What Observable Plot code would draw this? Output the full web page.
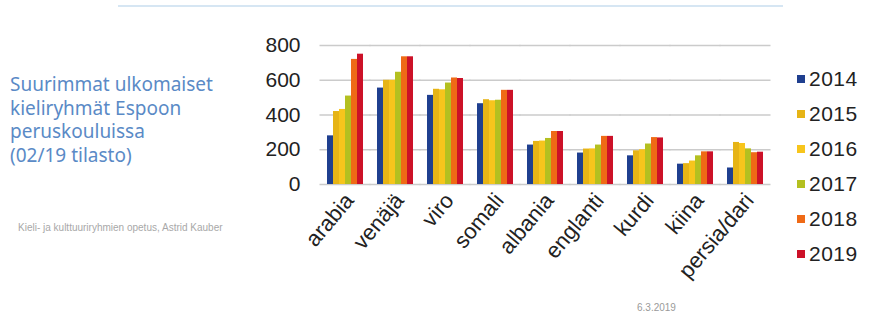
<!DOCTYPE html>
<html><head><meta charset="utf-8">
<script src="https://cdn.jsdelivr.net/npm/d3@7"></script>
<script src="https://cdn.jsdelivr.net/npm/@observablehq/plot@0.6"></script>
<style>
body{margin:0;background:#fff;}
#wrap{position:relative;width:871px;height:325px;overflow:hidden;font-family:"Liberation Sans",Arial,sans-serif;background:#fff;}
#wrap svg{position:absolute;left:0;top:0;}
#topline{position:absolute;left:118px;top:5px;width:665px;height:2px;background:#d6e6f3;}
#title{position:absolute;left:10px;top:73px;font-family:"Noto Sans","Open Sans",sans-serif;font-size:19px;line-height:23.5px;color:#5a8ac6;white-space:nowrap;}
#caption{position:absolute;left:18px;top:222px;font-size:10px;color:#a8a8a8;white-space:nowrap;}
#date{position:absolute;left:637px;top:302px;font-size:10px;color:#9a9a9a;}
#legend{position:absolute;left:797px;top:61px;}
.li{display:flex;align-items:center;height:35px;font-size:21px;color:#222;letter-spacing:0.5px;}
.sw{width:8px;height:8px;margin-right:4px;}
</style></head><body><div id="wrap">
<div id="topline"></div>
<div id="title">Suurimmat ulkomaiset<br>kieliryhmät Espoon<br>peruskouluissa<br>(02/19 tilasto)</div>
<div id="caption">Kieli- ja kulttuuriryhmien opetus, Astrid Kauber</div>
<div id="date">6.3.2019</div>
<div id="legend"></div>
</div>
<script>
const categories = ["arabia","venäjä","viro","somali","albania","englanti","kurdi","kiina","persia/dari"];
const years = ["2014","2015","2016","2017","2018","2019"];
const v2014 = [280,555,513,465,227,181,165,117,95];
const v2015 = [420,600,548,488,248,204,194,120,242];
const v2016 = [432,600,545,482,250,205,200,135,236];
const v2017 = [509,646,584,485,265,227,233,165,205];
const v2018 = [720,735,613,542,305,277,270,188,183];
const v2019 = [750,735,610,542,305,277,268,188,186];
const colors = ["#1f3f8f","#e6b416","#f7c51c","#b4c020","#ef6a16","#cc1128"];
const yTicks = [0,200,400,600,800];

const series = [v2014,v2015,v2016,v2017,v2018,v2019];
const data = categories.flatMap((c,i)=>years.map((y,j)=>({lang:c, year:y, value:series[j][i]})));

const chart = Plot.plot({
  width:871, height:325,
  marginLeft:316, marginRight:98, marginTop:45, marginBottom:141,
  style:{fontFamily:"Liberation Sans, Arial, sans-serif", background:"transparent", color:"#222"},
  fx:{domain:categories, paddingInner:0.2, paddingOuter:0.1, label:null},
  x:{domain:years, padding:0, axis:null},
  y:{domain:[0,800], label:null},
  color:{domain:years, range:colors},
  marks:[
    Plot.ruleY(yTicks,{stroke:"#cbcbcb", strokeWidth:1.5, insetLeft:-5.5, insetRight:-5.5}),
    Plot.barY(data,{fx:"lang", x:"year", y:"value", fill:"year"}),
    Plot.axisY(yTicks,{tickSize:0, tickPadding:25, fontSize:21, label:null, style:{letterSpacing:"1px"}}),
    Plot.axisFx({anchor:"bottom", tickRotate:-50, tickSize:0, tickPadding:12, dx:4, fontSize:22, label:null})
  ]
});
document.getElementById("wrap").appendChild(chart);

const leg = document.getElementById("legend");
years.forEach((y,i)=>{
  const d = document.createElement("div"); d.className="li";
  const s = document.createElement("span"); s.className="sw"; s.style.background=colors[i];
  const t = document.createElement("span"); t.textContent=y;
  d.appendChild(s); d.appendChild(t); leg.appendChild(d);
});
</script>
</body></html>
